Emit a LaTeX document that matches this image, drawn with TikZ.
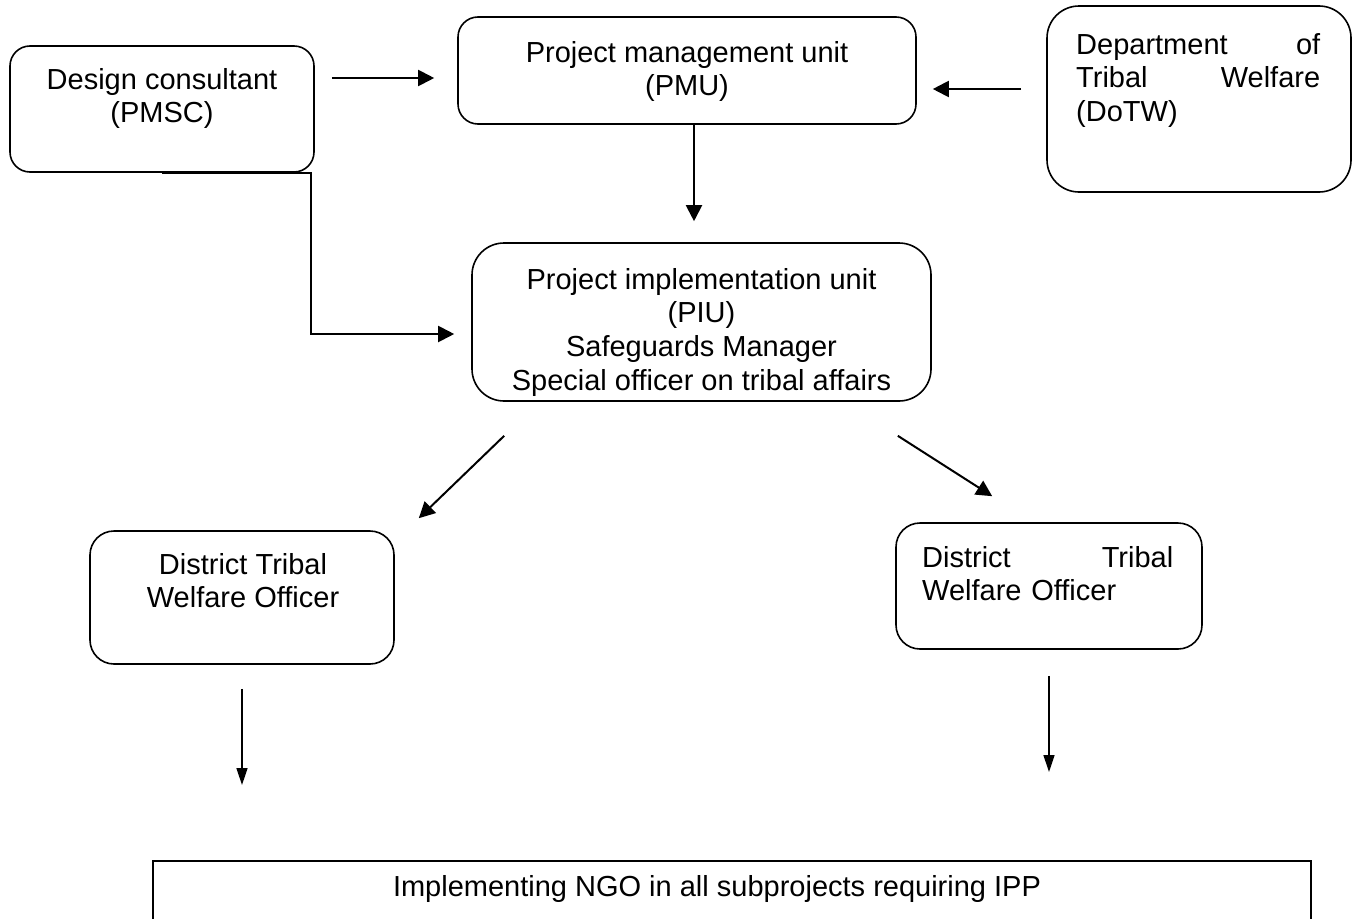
\documentclass[tikz,border=0pt]{standalone}
\usepackage{fontspec}
\setmainfont{Liberation Sans}
\usetikzlibrary{arrows.meta}
\begin{document}
\begin{tikzpicture}[x=1pt,y=-1pt,
  box/.style={draw, line width=1.6pt, rounded corners=20pt, inner sep=0pt},
  txt/.style={inner sep=0pt, font=\fontsize{29}{33.7}\selectfont, align=center, anchor=north},
  arr/.style={line width=2pt, -{Triangle[length=16pt,width=16pt]}},
  arrthin/.style={line width=1.5pt, -{Triangle[length=17pt,width=11pt]}}]
\useasboundingbox (0,0) rectangle (1356,918);
% boxes
\node[box, minimum width=304pt, minimum height=126pt] (dc) at (162,109) {};
\node[box, minimum width=458pt, minimum height=107pt] (pmu) at (687,70.5) {};
\node[box, minimum width=304pt, minimum height=186pt, rounded corners=32pt] (dotw) at (1199,99) {};
\node[box, minimum width=459pt, minimum height=158pt, rounded corners=32pt] (piu) at (701.5,322) {};
\node[box, minimum width=304pt, minimum height=133pt, rounded corners=24pt] (dl) at (242,597.5) {};
\node[box, minimum width=306pt, minimum height=126pt, rounded corners=24pt] (dr) at (1049,586) {};
\node[draw, line width=1.6pt, inner sep=0pt, minimum width=1158pt, minimum height=140pt, anchor=north west] (ngo) at (152,860) {};
% texts
\node[txt] (dct) at (162,64) {\rule{0pt}{25pt}Design consultant\\(PMSC)};
\node[txt] (pmut) at (687,37) {\rule{0pt}{25pt}Project management unit\\(PMU)};
\node[txt, anchor=north west, align=left, text width=244pt] (dotwt) at (1076,29) {\rule{0pt}{25pt}Department\hfill of\\Tribal\hfill Welfare\\(DoTW)};
\node[txt] (piut) at (701.5,264) {\rule{0pt}{25pt}Project implementation unit\\(PIU)\\Safeguards Manager\\Special officer on tribal affairs};
\node[txt] (dlt) at (243,549) {\rule{0pt}{25pt}District Tribal\\Welfare Officer};
\node[txt, anchor=north west, align=left, text width=251pt] (drt) at (922,542) {\rule{0pt}{25pt}District\hfill Tribal\\Welfare Officer};
\node[txt] (ngot) at (717,871) {\rule{0pt}{25pt}Implementing NGO in all subprojects requiring IPP};
% connectors
\draw[arr, shorten <=17pt, shorten >=23pt] (dc.east |- 0,78) -- (pmu.west |- 0,78);
\draw[arr, shorten <=25pt, shorten >=16pt] (dotw.west |- 0,89) -- (pmu.east |- 0,89);
\draw[arr, shorten >=21pt] (pmu.south -| 694,0) -- (piu.north -| 694,0);
\draw[arr, shorten >=17pt] (dc.south) -| (311,334) -- (piu.west |- 0,334);
\draw[arr] ([shift={(33,34)}]piu.south west) -- ([shift={(24,-12)}]dl.north east);
\draw[arr] ([shift={(-34,34)}]piu.south east) -- ([shift={(97,-26)}]dr.north west);
\draw[arrthin, shorten <=24pt, shorten >=75pt] (dl.south) -- (dl.south |- ngo.north);
\draw[arrthin, shorten <=26pt, shorten >=88pt] (dr.south) -- (dr.south |- ngo.north);
\end{tikzpicture}
\end{document}
